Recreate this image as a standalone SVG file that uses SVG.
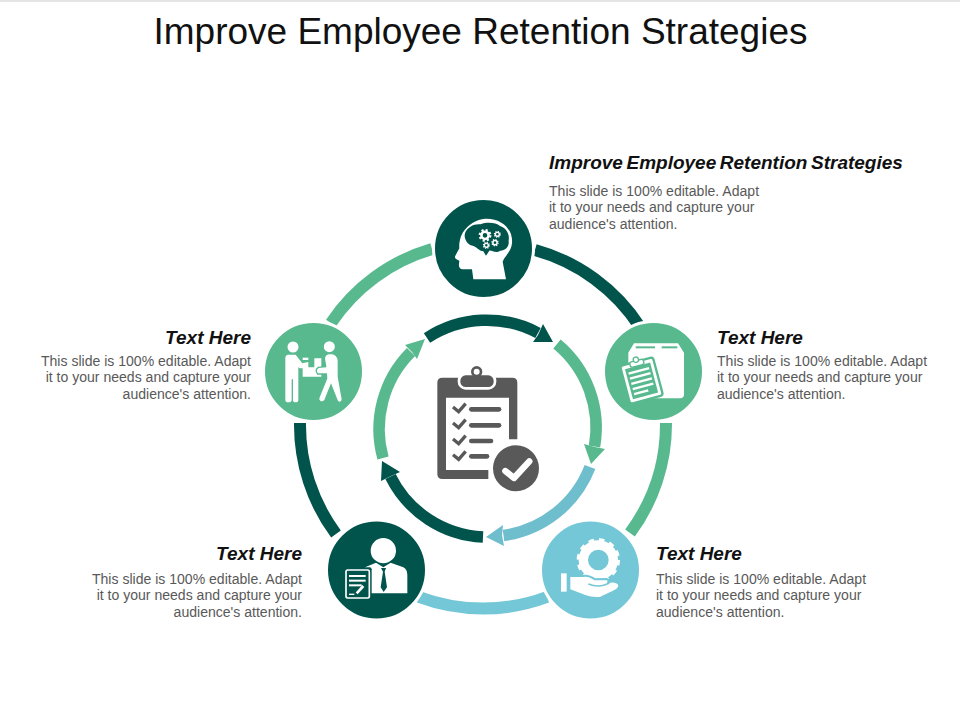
<svg xmlns="http://www.w3.org/2000/svg" width="960" height="720" viewBox="0 0 960 720">
<style>
text{font-family:"Liberation Sans",Arial,sans-serif}
.title{font-size:37px;fill:#111;text-anchor:middle}
.h{font-size:19px;font-weight:bold;font-style:italic;fill:#111}
.b{font-size:14.050px;fill:#595959}
.e{text-anchor:end}
.arc{fill:none;stroke-width:12}
.iarc{fill:none;stroke-width:11.500}
.d{stroke:#00544c}.g{stroke:#58b98f}.l{stroke:#74c7d6}
.fd{fill:#00544c}.fg{fill:#58b98f}.fl{fill:#74c7d6}
.halo{stroke:#fff;stroke-width:3}
.w{fill:#fff}
.ink{fill:#595959}
</style>
<defs>
<g id="gear"><circle r="7" fill="none" stroke="#fff" stroke-width="5"/><circle r="10.500" fill="none" stroke="#fff" stroke-width="4" stroke-dasharray="4.100 4.150"/></g>
</defs>
<rect x="0" y="0" width="960" height="2" fill="#e4e4e4"/>
<text class="title" x="480.500" y="44">Improve Employee Retention Strategies</text>
<g id="connectors">
<path class="arc d" d="M535 250A183 183 0 0 1 640 327"/>
<path class="arc g" d="M666 423A183 183 0 0 1 630 533"/>
<path class="arc l" d="M547 597A183 183 0 0 1 419 597"/>
<path class="arc d" d="M336 534A183 183 0 0 1 300 423"/>
<path class="arc g" d="M331 323A183 183 0 0 1 432 249"/>
<path class="iarc d" d="M427 338A109 109 0 0 1 538 333"/>
<polygon class="fd" points="553,342 533,342 538,335 543,324"/>
<path class="iarc g" d="M557 344A109 109 0 0 1 594.500 446.500"/>
<polygon class="fg" points="591,464 584,444 595,447 605,449"/>
<path class="iarc l" d="M590 467A109 109 0 0 1 503.500 535.500" style="stroke:#6fbecd"/>
<polygon points="486,537 503,525 502,535 504,546" style="fill:#6fbecd"/>
<path class="iarc d" d="M483 537A109 109 0 0 1 390.500 476.500"/>
<polygon class="fd" points="382,461 381,481 391,476 400,472"/>
<path class="iarc g" d="M383 458A109 109 0 0 1 411 352"/>
<polygon class="fg" points="425,339 405,345 412,352 417,359"/>
</g>
<g id="center-clipboard" transform="translate(360 305) scale(.33333)">
<path class="ink" d="M247 218H457Q472 218 472 233V403H447V278H258V495H385V522H247Q232 522 232 507V233Q232 218 247 218Z"/>
<rect x="297" y="207" width="108" height="43" rx="20" class="ink" stroke="#fff" stroke-width="8"/>
<circle cx="350" cy="200" r="13" fill="#fff" stroke="#595959" stroke-width="8"/>
<g fill="none" stroke="#595959" stroke-width="10">
<polyline points="279,306 296,320 317,296"/><polyline points="279,354 296,368 317,344"/><polyline points="279,402 296,416 317,392"/><polyline points="279,449 296,463 317,439"/>
</g>
<g stroke="#595959" stroke-width="14" stroke-linecap="round">
<line x1="334" y1="313" x2="417" y2="313"/><line x1="334" y1="361" x2="417" y2="361"/><line x1="334" y1="408" x2="393" y2="408"/><line x1="334" y1="454" x2="381" y2="454"/>
</g>
<circle cx="468" cy="490" r="69" class="ink"/>
<polyline points="436,498 462,519 508,469" fill="none" stroke="#fff" stroke-width="19" stroke-linejoin="round" stroke-linecap="round"/>
</g>
<g id="node-top">
<circle cx="483.500" cy="248.500" r="50" class="fd halo"/>
<g transform="translate(420 190) scale(.33333)">
<path class="w" d="M195 86C245 84 280 118 276 160C274 185 254 198 248 215L258 268H160L156 238L128 238Q115 236 117 222L118 212L108 207Q103 203 106 197L118 175Q116 150 128 128C145 102 170 88 195 86Z"/>
<path class="fd" d="M135 130C141 110 165 100 182 103C202 95 228 98 240 108C260 114 270 135 266 152C269 172 252 183 240 182C228 192 215 180 208 182L198 197L190 184C176 182 170 170 158 167C143 167 130 145 135 130Z"/>
<use href="#gear" transform="translate(195 136) scale(1.550)"/>
<use href="#gear" transform="translate(232 133) scale(.85)"/>
<use href="#gear" transform="translate(225 158) scale(.9)"/>
<use href="#gear" transform="translate(199 166) scale(.85)"/>
</g>
</g>
<g id="node-right">
<circle cx="653.500" cy="371.500" r="50" class="fg halo"/>
<g transform="translate(590 310) scale(.33333)">
<path class="w" d="M115 128L132 100H264L282 128V253Q282 265 270 265H130Q115 265 115 253Z"/>
<rect x="137" y="109" width="58" height="6" class="fg"/>
<rect x="215" y="109" width="47" height="6" class="fg"/>
<g transform="rotate(-15 154 210)">
<rect x="103" y="153" width="102" height="118" rx="8" class="w" stroke="#58b98f" stroke-width="7"/>
<rect x="115" y="166" width="78" height="93" class="fg"/>
<rect x="122" y="178" width="64" height="7" class="w"/><rect x="122" y="194" width="64" height="7" class="w"/><rect x="122" y="210" width="64" height="7" class="w"/><rect x="122" y="226" width="64" height="7" class="w"/><rect x="122" y="242" width="44" height="7" class="w"/>
<rect x="133" y="150" width="42" height="16" rx="6" class="w" stroke="#58b98f" stroke-width="4"/>
<circle cx="154" cy="147" r="8" class="w" stroke="#58b98f" stroke-width="4"/>
</g>
</g>
</g>
<g id="node-bottom-right">
<circle cx="590.500" cy="570" r="50" class="fl halo"/>
<g transform="translate(530 510) scale(.33333)">
<circle cx="205" cy="150" r="45" fill="none" stroke="#fff" stroke-width="28"/>
<circle cx="205" cy="150" r="59" fill="none" stroke="#fff" stroke-width="12" stroke-dasharray="16 14.900"/>
<path class="w" stroke="#74c7d6" stroke-width="6" d="M118 198H160Q175 195 195 208L230 207Q240 210 232 222L240 215Q262 212 268 226Q268 238 250 245L212 263Q190 267 165 258L118 240Z"/>
<path d="M175 222Q205 234 232 222" fill="none" stroke="#74c7d6" stroke-width="5"/>
<rect x="93" y="190" width="17" height="55" class="w"/>
</g>
</g>
<g id="node-bottom-left">
<circle cx="376.500" cy="570" r="50" class="fd halo"/>
<g transform="translate(320 510) scale(.33333)">
<circle cx="190" cy="122" r="38" class="w"/>
<path class="w" d="M135 172L168 158L190 172L212 158L250 172Q262 178 262 195V250H135Z"/>
<path class="fd" d="M183 174H198L194 185L201 232L191 246L182 232L189 185Z"/>
<rect x="71" y="172" width="84" height="100" rx="6" class="fd"/>
<rect x="78" y="180" width="70" height="84" rx="5" class="fd" stroke="#fff" stroke-width="5"/>
<rect x="87" y="195" width="50" height="6" class="w"/><rect x="87" y="209" width="50" height="6" class="w"/><rect x="87" y="223" width="38" height="6" class="w"/>
<path d="M110 250L130 228" stroke="#fff" stroke-width="8"/>
<rect x="87" y="251" width="16" height="4" class="w"/>
</g>
</g>
<g id="node-left">
<circle cx="313.500" cy="371.500" r="50" class="fg halo"/>
<g transform="translate(255 310) scale(.33333)">
<circle cx="114" cy="111" r="16.500" class="w"/>
<circle cx="223" cy="110" r="16.500" class="w"/>
<path class="w" d="M100 134H122L142 160L160 156V175H135L130 172V270Q130 277 122 277Q114 277 114 270V208H110V270Q110 277 100 277Q91 277 91 270V145Q91 134 100 134Z"/>
<rect x="143" y="143" width="17" height="7" class="w"/>
<path class="w" d="M143 172H178V145H199V200H143Z"/>
<path class="w" stroke="#58b98f" stroke-width="4" d="M228 130Q250 132 250 155V200L262 268Q262 277 254 277Q247 277 245 268L228 225L210 270Q205 278 196 275Q188 270 192 262L215 205L214 192L188 192Q178 180 190 172L212 170L208 145Q210 130 228 130Z"/>
</g>
</g>
<g id="label-top">
<text class="h" x="549" y="169" style="word-spacing:-1.700px">Improve Employee Retention Strategies</text>
<text class="b" x="549" y="196">This slide is 100% editable. Adapt</text>
<text class="b" x="549" y="212">it to your needs and capture your</text>
<text class="b" x="549" y="229">audience's attention.</text>
</g>
<g id="label-right">
<text class="h" x="717" y="344">Text Here</text>
<text class="b" x="717" y="366">This slide is 100% editable. Adapt</text>
<text class="b" x="717" y="382">it to your needs and capture your</text>
<text class="b" x="717" y="399">audience's attention.</text>
</g>
<g id="label-bottom-right">
<text class="h" x="656" y="560">Text Here</text>
<text class="b" x="656" y="584">This slide is 100% editable. Adapt</text>
<text class="b" x="656" y="600">it to your needs and capture your</text>
<text class="b" x="656" y="617">audience's attention.</text>
</g>
<g id="label-bottom-left">
<text class="h e" x="302" y="560">Text Here</text>
<text class="b e" x="302" y="584">This slide is 100% editable. Adapt</text>
<text class="b e" x="302" y="600">it to your needs and capture your</text>
<text class="b e" x="302" y="617">audience's attention.</text>
</g>
<g id="label-left">
<text class="h e" x="251" y="344">Text Here</text>
<text class="b e" x="251" y="366">This slide is 100% editable. Adapt</text>
<text class="b e" x="251" y="382">it to your needs and capture your</text>
<text class="b e" x="251" y="399">audience's attention.</text>
</g>
</svg>
